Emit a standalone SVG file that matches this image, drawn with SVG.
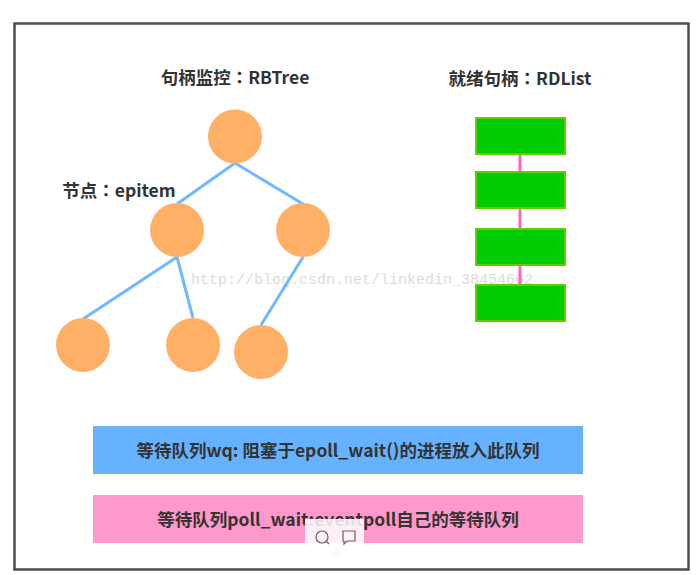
<svg xmlns="http://www.w3.org/2000/svg" width="699" height="575" viewBox="0 0 699 575">
<style>
text{font-family:"Noto Sans CJK SC","Liberation Sans",sans-serif;font-weight:700;fill:#333;text-anchor:middle;font-size:17.500px}
.c{font-family:"Noto Sans CJK TC",sans-serif}
.w{font-family:"Liberation Mono",monospace;font-weight:400;fill:#dcdcdc;font-size:15px}
.n{fill:#ffb066}
.r{fill:#00cc00;stroke:#66cc00;stroke-width:2}
.e{stroke:#70b8ff;stroke-width:3;fill:none}
.l{stroke:#ff66bb;stroke-width:3;fill:none}
</style>
<rect width="699" height="575" fill="#fff"/>
<rect id="frame" x="14.500" y="23.500" width="674" height="546" fill="#fff" stroke="#4d4d4d" stroke-width="2.500"/>
<text class="w" x="362" y="284">http://blog.csdn.net/linkedin_38454662</text>
<g id="connectors">
<path class="e" d="M235 163L177 204M235 163L303 204M177 257L83 319M177 257L193 318M303 257L261 325"/>
<path class="l" d="M520 154V172M520 208V229M520 265V285"/>
</g>
<g id="n1"><circle class="n" cx="235" cy="136.500" r="27"/></g>
<g id="n2"><circle class="n" cx="177" cy="230" r="27"/></g>
<g id="n3"><circle class="n" cx="303" cy="230" r="27"/></g>
<g id="n4"><circle class="n" cx="83" cy="345" r="27"/></g>
<g id="n5"><circle class="n" cx="193" cy="345" r="27"/></g>
<g id="n6"><circle class="n" cx="261" cy="352" r="27"/></g>
<g id="r1"><rect class="r" x="476" y="118" width="89" height="36"/></g>
<g id="r2"><rect class="r" x="476" y="172" width="89" height="36"/></g>
<g id="r3"><rect class="r" x="476" y="229" width="89" height="36"/></g>
<g id="r4"><rect class="r" x="476" y="285" width="89" height="36"/></g>
<text x="235" y="84">句柄监控<tspan class="c">：</tspan>RBTree</text>
<text x="520" y="85">就绪句柄<tspan class="c">：</tspan>RDList</text>
<text x="119" y="197">节点<tspan class="c">：</tspan>epitem</text>
<g id="wq"><rect x="93" y="426" width="490" height="48" fill="#66b2ff"/><text x="338" y="457">等待队列wq: 阻塞于epoll_wait()的进程放入此队列</text></g>
<g id="pw"><rect x="93" y="495" width="490" height="48" fill="#ff99cc"/><text x="338" y="526">等待队列poll_wait:eventpoll自己的等待队列</text></g>
<g id="toolbar">
<rect x="305" y="519" width="59" height="33" fill="#fff" fill-opacity=".85"/>
<path d="M329 552h16l-8 6z" fill="#fafafa"/>
<circle cx="322" cy="537" r="6" fill="none" stroke="#665" stroke-width="1.200"/>
<path d="M326 541l3 3" stroke="#665" stroke-width="1.200"/>
<path d="M343 531h12v10h-8l-3 3v-3h-1z" fill="none" stroke="#665" stroke-width="1.200"/>
</g>
</svg>
